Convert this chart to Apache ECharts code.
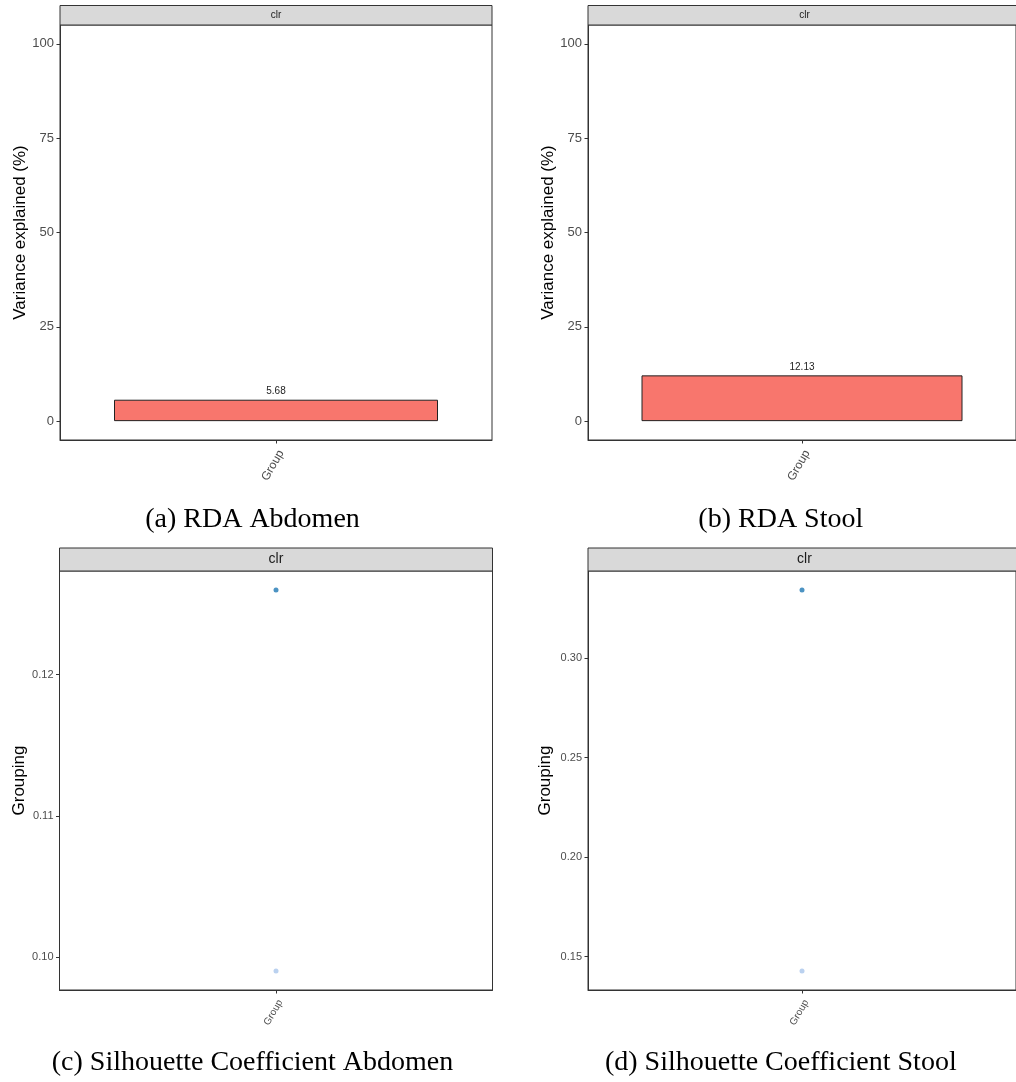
<!DOCTYPE html>
<html>
<head>
<meta charset="utf-8">
<script src="https://cdn.jsdelivr.net/npm/echarts@6/dist/echarts.min.js"></script>
<style>
html,body{margin:0;padding:0;background:#fff;}
#chart{width:1016px;height:1082px;}
</style>
</head>
<body>
<div id="chart"></div>
<script>
// ---- data ----
const categories = ['Group'];
const rdaAbdomen = [5.68];
const rdaStool = [12.13];
const silAbdomen = [0.1260, 0.0990];
const silStool = [0.3342, 0.1428];
const rdaTicks = [0, 25, 50, 75, 100];
const silAbdomenTicks = [0.10, 0.11, 0.12];
const silStoolTicks = [0.15, 0.20, 0.25, 0.30];
const rdaLimits = [0, 100];
const stripLabel = 'clr';
const captions = ['(a) RDA Abdomen', '(b) RDA Stool', '(c) Silhouette Coefficient Abdomen', '(d) Silhouette Coefficient Stool'];
const yTitles = ['Variance explained (%)', 'Variance explained (%)', 'Grouping', 'Grouping'];

// ---- styles ----
const SANS = 'Liberation Sans, Arial, sans-serif';
const SERIF = 'Liberation Serif, Times New Roman, serif';
const barColor = '#F8766D';
const pointColors = ['#1f78b4', '#a9c5eb'];

function expand(lo, hi) { const s = hi - lo; return [lo - 0.05 * s, hi + 0.05 * s]; }
const rdaRange = expand(rdaLimits[0], rdaLimits[1]);
const absRange = expand(Math.min(...silAbdomen), Math.max(...silAbdomen));
const stoolRange = expand(Math.min(...silStool), Math.max(...silStool));

const panels = [
  {left: 60, top: 25, width: 432, height: 415, stripTop: 5.5, stripH: 19.5, stripFont: 10, tickFont: 13, xFont: 12, nameGap: 30},
  {left: 588, top: 25, width: 433, height: 415, stripTop: 5.5, stripH: 19.5, stripFont: 10, tickFont: 13, xFont: 12, nameGap: 31},
  {left: 59.5, top: 571, width: 433, height: 419, stripTop: 548, stripH: 23, stripFont: 14, tickFont: 11, xFont: 10, nameGap: 31},
  {left: 588, top: 571, width: 433, height: 419, stripTop: 548, stripH: 23, stripFont: 14, tickFont: 11, xFont: 10, nameGap: 34}
];
const ranges = [rdaRange, rdaRange, absRange, stoolRange];
const ticks = [rdaTicks, rdaTicks, silAbdomenTicks, silStoolTicks];
const captionPos = [[252.5, 520], [780.8, 520], [252.5, 1063], [780.8, 1063]];

const grids = panels.map(p => ({
  left: p.left, top: p.top, width: p.width, height: p.height,
  show: true, borderColor: '#333', borderWidth: 1, backgroundColor: 'transparent', containLabel: false
}));

const xAxes = panels.map((p, i) => ({
  type: 'category', gridIndex: i, data: categories, boundaryGap: true,
  axisLine: {show: true, onZero: false, lineStyle: {color: '#333', width: 1}},
  axisTick: {show: true, alignWithLabel: true, length: 3.5, lineStyle: {color: '#333'}},
  axisLabel: {rotate: 60, align: 'right', verticalAlign: 'top', margin: 8, fontSize: p.xFont, color: '#4d4d4d', fontFamily: SANS},
  splitLine: {show: false}
}));

const yAxes = panels.map((p, i) => ({
  type: 'value', gridIndex: i, min: ranges[i][0], max: ranges[i][1],
  name: yTitles[i], nameLocation: 'middle', nameGap: p.nameGap,
  nameTextStyle: {fontSize: 17, color: '#000', fontFamily: SANS},
  axisLine: {show: true, lineStyle: {color: '#333', width: 1}},
  axisTick: {show: true, length: 3.5, lineStyle: {color: '#333'}, customValues: ticks[i]},
  axisLabel: {show: true, margin: 6, fontSize: p.tickFont, color: '#4d4d4d', fontFamily: SANS,
    customValues: ticks[i],
    formatter: v => (i < 2 ? String(Math.round(v)) : v.toFixed(2))},
  splitLine: {show: false}
}));

function scatterData(vals) {
  return vals.map((v, k) => ({value: [categories[0], v], itemStyle: {color: pointColors[k]}}));
}

const series = [
  {type: 'bar', xAxisIndex: 0, yAxisIndex: 0, data: rdaAbdomen, barWidth: '75%',
   itemStyle: {color: barColor, borderColor: '#222', borderWidth: 1},
   label: {show: true, position: 'top', distance: 3, fontSize: 10, color: '#222', fontFamily: SANS, formatter: p => p.value.toFixed(2)}},
  {type: 'bar', xAxisIndex: 1, yAxisIndex: 1, data: rdaStool, barWidth: '75%',
   itemStyle: {color: barColor, borderColor: '#222', borderWidth: 1},
   label: {show: true, position: 'top', distance: 3, fontSize: 10, color: '#222', fontFamily: SANS, formatter: p => p.value.toFixed(2)}},
  {type: 'scatter', xAxisIndex: 2, yAxisIndex: 2, data: scatterData(silAbdomen), symbol: 'circle', symbolSize: 5},
  {type: 'scatter', xAxisIndex: 3, yAxisIndex: 3, data: scatterData(silStool), symbol: 'circle', symbolSize: 5}
];

const graphics = [];
panels.forEach((p, i) => {
  graphics.push({type: 'rect', shape: {x: p.left, y: p.stripTop, width: p.width, height: p.stripH},
    style: {fill: '#d9d9d9', stroke: '#333', lineWidth: 1}, z: 10});
  graphics.push({type: 'text', x: p.left + p.width / 2, y: p.stripTop + p.stripH / 2,
    style: {text: stripLabel, fontSize: p.stripFont, fontFamily: SANS, fill: '#1a1a1a', textAlign: 'center', textVerticalAlign: 'middle'}, z: 11});
  graphics.push({type: 'text', x: captionPos[i][0], y: captionPos[i][1],
    style: {text: captions[i], fontSize: 28, fontFamily: SERIF, fill: '#000', textAlign: 'center', textVerticalAlign: 'middle'}, z: 11});
});

const chart = echarts.init(document.getElementById('chart'), null, {renderer: 'canvas'});
chart.setOption({
  animation: false,
  backgroundColor: '#fff',
  grid: grids,
  xAxis: xAxes,
  yAxis: yAxes,
  series: series,
  graphic: graphics
});
</script>
</body>
</html>
